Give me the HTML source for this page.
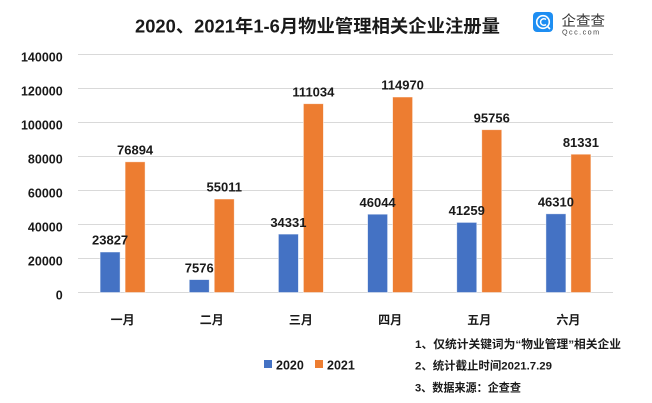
<!DOCTYPE html>
<html>
<head>
<meta charset="utf-8">
<style>
html,body{margin:0;padding:0;background:#fff;}
svg{display:block;}
text{font-family:"Liberation Sans","Noto Sans CJK SC",sans-serif;}
</style>
</head>
<body>
<svg width="652" height="403" viewBox="0 0 652 403" xmlns="http://www.w3.org/2000/svg">
<rect width="652" height="403" fill="#fff"/>
<!-- Title -->
<text x="135" y="32.5" font-size="18" font-weight="bold" fill="#1a1a1a" textLength="365" lengthAdjust="spacingAndGlyphs">2020、2021年1-6月物业管理相关企业注册量</text>
<!-- Logo -->
<rect x="533" y="12" width="20" height="20" rx="4" fill="#1e8ef2"/>
<circle cx="543" cy="22" r="6.3" fill="none" stroke="#fff" stroke-width="1.6"/>
<path d="M546 19.5 A3.3 3.3 0 1 0 546 24.5" fill="none" stroke="#fff" stroke-width="1.5"/>
<path d="M547.5 26.5 L550 29" stroke="#fff" stroke-width="1.6"/>
<text x="561.5" y="26" font-size="14.5" fill="#333">企查查</text>
<text x="562" y="34.3" font-size="7.2" fill="#444" letter-spacing="1.45">Qcc.com</text>
<!-- Gridlines -->
<g stroke="#d9d9d9" stroke-width="1">
<line x1="78" y1="54.5" x2="613" y2="54.5"/>
<line x1="78" y1="88.5" x2="613" y2="88.5"/>
<line x1="78" y1="122.5" x2="613" y2="122.5"/>
<line x1="78" y1="156.5" x2="613" y2="156.5"/>
<line x1="78" y1="190.5" x2="613" y2="190.5"/>
<line x1="78" y1="224.5" x2="613" y2="224.5"/>
<line x1="78" y1="258.5" x2="613" y2="258.5"/>
<line x1="78" y1="292.5" x2="613" y2="292.5"/>
</g>
<!-- Y labels -->
<g font-size="12.5" font-weight="bold" fill="#1a1a1a" text-anchor="end">
<text x="62.7" y="61.3">140000</text>
<text x="62.7" y="95.3">120000</text>
<text x="62.7" y="129.3">100000</text>
<text x="62.7" y="163.3">80000</text>
<text x="62.7" y="197.3">60000</text>
<text x="62.7" y="231.3">40000</text>
<text x="62.7" y="265.3">20000</text>
<text x="62.7" y="299.3">0</text>
</g>
<!-- Bars -->
<g stroke="#ffffff" stroke-opacity="0.6" stroke-width="0.8">
<rect x="100.1" y="252" width="20" height="40.5" fill="#4472c4"/>
<rect x="125.1" y="161.8" width="20" height="130.7" fill="#ed7d31"/>
<rect x="189.25" y="279.6" width="20" height="12.9" fill="#4472c4"/>
<rect x="214.25" y="199" width="20" height="93.5" fill="#ed7d31"/>
<rect x="278.4" y="234.1" width="20" height="58.4" fill="#4472c4"/>
<rect x="303.4" y="103.7" width="20" height="188.8" fill="#ed7d31"/>
<rect x="367.6" y="214.2" width="20" height="78.3" fill="#4472c4"/>
<rect x="392.6" y="97" width="20" height="195.5" fill="#ed7d31"/>
<rect x="456.75" y="222.4" width="20" height="70.1" fill="#4472c4"/>
<rect x="481.75" y="129.7" width="20" height="162.8" fill="#ed7d31"/>
<rect x="545.9" y="213.8" width="20" height="78.7" fill="#4472c4"/>
<rect x="570.9" y="154.2" width="20" height="138.3" fill="#ed7d31"/>
</g>
<!-- Data labels -->
<g font-size="13" font-weight="bold" fill="#1a1a1a" text-anchor="middle">
<text x="110.1" y="244.7">23827</text>
<text x="135.1" y="154.5">76894</text>
<text x="199.25" y="272.3">7576</text>
<text x="224.25" y="191.7">55011</text>
<text x="288.4" y="226.8">34331</text>
<text x="313.4" y="96.4">111034</text>
<text x="377.6" y="206.9">46044</text>
<text x="402.6" y="89.7">114970</text>
<text x="466.75" y="215.1">41259</text>
<text x="491.75" y="122.4">95756</text>
<text x="555.9" y="206.5">46310</text>
<text x="580.9" y="146.9">81331</text>
</g>
<!-- X labels -->
<g font-size="12" font-weight="bold" fill="#1a1a1a" text-anchor="middle">
<text x="122.6" y="324">一月</text>
<text x="211.75" y="324">二月</text>
<text x="300.9" y="324">三月</text>
<text x="390.1" y="324">四月</text>
<text x="479.3" y="324">五月</text>
<text x="568.4" y="324">六月</text>
</g>
<!-- Legend -->
<rect x="264" y="360" width="8" height="8" fill="#4472c4"/>
<text x="276" y="369.5" font-size="12.5" font-weight="bold" fill="#1a1a1a">2020</text>
<rect x="315" y="360" width="8" height="8" fill="#ed7d31"/>
<text x="327" y="369.5" font-size="12.5" font-weight="bold" fill="#1a1a1a">2021</text>
<!-- Notes -->
<g font-size="11.3" font-weight="bold" fill="#1a1a1a">
<text x="415" y="348" textLength="206" lengthAdjust="spacingAndGlyphs">1、仅统计关键词为“物业管理”相关企业</text>
<text x="415" y="369.3" textLength="137" lengthAdjust="spacingAndGlyphs">2、统计截止时间2021.7.29</text>
<text x="415" y="391.5" textLength="106" lengthAdjust="spacingAndGlyphs">3、数据来源：企查查</text>
</g>
</svg>
</body>
</html>
